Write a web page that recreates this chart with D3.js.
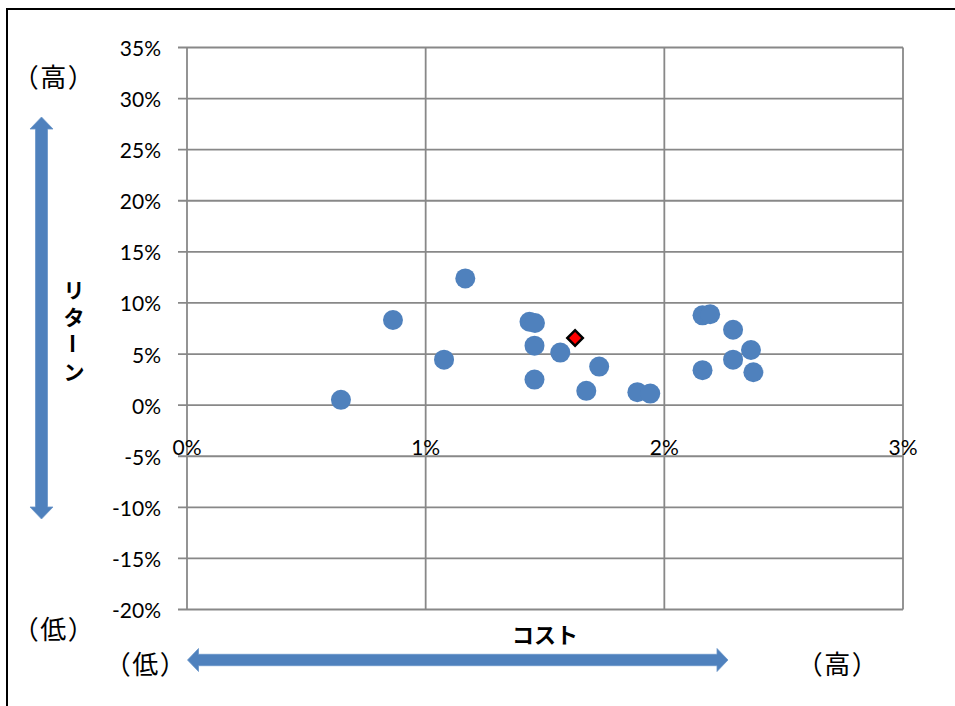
<!DOCTYPE html>
<html>
<head>
<meta charset="utf-8">
<script src="https://cdn.jsdelivr.net/npm/d3@7"></script>
<style>
  html, body { margin: 0; padding: 0; background: #fff; }
  svg { display: block; }
  .tick-label { font-family: Lato, "Open Sans", sans-serif; font-size: 21px; fill: #000; }
  .jp { font-family: "Noto Sans CJK JP", sans-serif; fill: #000; }
</style>
</head>
<body>
<svg id="chart" width="955" height="706"></svg>
<script>
// Cost (x, %) and return (y, %) for each fund
const costs   = [0.645, 0.863, 1.077, 1.166, 1.435, 1.458, 1.456, 1.456, 1.564, 1.727, 1.673, 1.887, 1.941, 2.160, 2.192, 2.288, 2.363, 2.288, 2.160, 2.373];
const returns = [0.52, 8.33, 4.45, 12.40, 8.16, 8.04, 5.82, 2.50, 5.14, 3.77, 1.40, 1.27, 1.13, 8.79, 8.89, 7.38, 5.40, 4.45, 3.42, 3.22];
// Highlighted fund
const highlightCost = [1.626];
const highlightReturn = [6.57];

const xTicks = [0, 1, 2, 3];
const yTicks = [-20, -15, -10, -5, 0, 5, 10, 15, 20, 25, 30, 35];

const svg = d3.select("#chart");

// Outer frame
svg.append("rect")
  .attr("x", 7).attr("y", 9).attr("width", 1000).attr("height", 800)
  .attr("fill", "none").attr("stroke", "#000").attr("stroke-width", 2);

const x = d3.scaleLinear().domain([0, 3]).range([187, 903]);
const y = d3.scaleLinear().domain([-20, 35]).range([609.5, 47.5]);

const grid = svg.append("g").attr("stroke", "#888").attr("stroke-width", 1.8);

// Horizontal gridlines (with tick stubs to the left of the axis)
grid.selectAll("line.h").data(yTicks).join("line")
  .attr("x1", x(0) - 9).attr("x2", x(3))
  .attr("y1", d => y(d)).attr("y2", d => y(d));

// Vertical gridlines
grid.selectAll("line.v").data(xTicks).join("line")
  .attr("x1", d => x(d)).attr("x2", d => x(d))
  .attr("y1", y(35)).attr("y2", y(-20));

// Y tick labels
svg.append("g").selectAll("text").data(yTicks).join("text")
  .attr("class", "tick-label")
  .attr("x", 161).attr("y", d => y(d))
  .attr("text-anchor", "end").attr("dominant-baseline", "central")
  .text(d => d + "%");

// X tick labels, hung just below the 0% line
svg.append("g").selectAll("text").data(xTicks).join("text")
  .attr("class", "tick-label")
  .attr("x", d => x(d)).attr("y", y(0) + 41)
  .attr("text-anchor", "middle").attr("dominant-baseline", "central")
  .text(d => d + "%");

// Fund points
svg.append("g").selectAll("circle").data(d3.range(costs.length)).join("circle")
  .attr("cx", i => x(costs[i])).attr("cy", i => y(returns[i]))
  .attr("r", 10)
  .attr("fill", "#4f81bd");

// Highlighted fund (diamond)
svg.append("g").selectAll("path").data(highlightCost.map((c, i) => [c, highlightReturn[i]])).join("path")
  .attr("d", d3.symbol().type(d3.symbolSquare).size(120))
  .attr("transform", d => `translate(${x(d[0])},${y(d[1])}) rotate(45)`)
  .attr("fill", "#ff0000").attr("stroke", "#000").attr("stroke-width", 2.5);

// Double-headed arrows
const arrowFill = "#4f81bd";
function vArrow(cx, y1, y2, head, hw, sw) {
  return `M${cx},${y1} L${cx + hw},${y1 + head} L${cx + sw},${y1 + head} L${cx + sw},${y2 - head} L${cx + hw},${y2 - head} L${cx},${y2} L${cx - hw},${y2 - head} L${cx - sw},${y2 - head} L${cx - sw},${y1 + head} L${cx - hw},${y1 + head} Z`;
}
function hArrow(cy, x1, x2, head, hw, sw) {
  return `M${x1},${cy} L${x1 + head},${cy - hw} L${x1 + head},${cy - sw} L${x2 - head},${cy - sw} L${x2 - head},${cy - hw} L${x2},${cy} L${x2 - head},${cy + hw} L${x2 - head},${cy + sw} L${x1 + head},${cy + sw} L${x1 + head},${cy + hw} Z`;
}
svg.append("path").attr("d", vArrow(41.5, 117, 519, 12, 11.5, 6))
  .attr("fill", arrowFill).attr("stroke", "#6a95c9").attr("stroke-width", 0.8);
svg.append("path").attr("d", hArrow(660, 187.5, 728, 11, 11.5, 5.7))
  .attr("fill", arrowFill).attr("stroke", "#6a95c9").attr("stroke-width", 0.8);

// Direction labels
const labels = [
  { t: "（高）", x: 54, y: 75 },
  { t: "（低）", x: 54, y: 627 },
  { t: "（低）", x: 146, y: 662 },
  { t: "（高）", x: 838, y: 662 }
];
svg.append("g").selectAll("text").data(labels).join("text")
  .attr("class", "jp")
  .attr("font-size", 26)
  .attr("letter-spacing", 1.5)
  .attr("x", d => d.x).attr("y", d => d.y)
  .attr("text-anchor", "middle").attr("dominant-baseline", "central")
  .text(d => d.t);

// Axis titles
svg.append("text").attr("class", "jp")
  .attr("font-size", 22).attr("font-weight", "bold")
  .attr("x", 545).attr("y", 633)
  .attr("text-anchor", "middle").attr("dominant-baseline", "central")
  .text("コスト");

const vTitle = Array.from("リターン");
const vy = d3.scalePoint().domain(d3.range(vTitle.length)).range([288.5, 371]);
svg.append("g").selectAll("text").data(vTitle).join("text")
  .attr("class", "jp")
  .attr("font-size", 21).attr("font-weight", "bold")
  .attr("text-anchor", "middle").attr("dominant-baseline", "central")
  .attr("transform", (d, i) => `translate(74,${vy(i)})` + (d === "ー" ? " rotate(90)" : ""))
  .text(d => d);
</script>
</body>
</html>
